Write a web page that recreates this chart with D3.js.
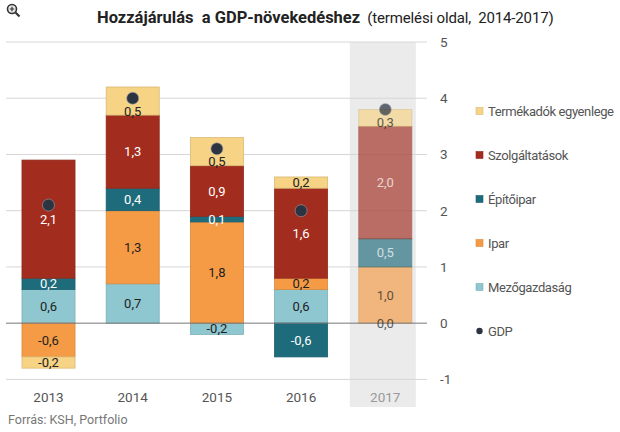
<!DOCTYPE html>
<html><head><meta charset="utf-8">
<script src="https://cdn.jsdelivr.net/npm/d3@7"></script>
<style>body{margin:0;background:#fff} svg{display:block;font-family:Roboto, "Noto Sans", sans-serif}</style>
</head><body><svg id="c" width="620" height="432"></svg>
<script>
const years = ["2013", "2014", "2015", "2016", "2017"];
const highlightYear = "2017";
const mezogazdasag = [0.6, 0.7, -0.2, 0.6, 0.0];
const ipar = [-0.6, 1.3, 1.8, 0.2, 1.0];
const epitoipar = [0.2, 0.4, 0.1, -0.6, 0.5];
const szolgaltatasok = [2.1, 1.3, 0.9, 1.6, 2.0];
const termekadok = [-0.2, 0.5, 0.5, 0.2, 0.3];
const gdp = [2.1, 4.0, 3.1, 2.0, 3.8];
const yTicks = [-1, 0, 1, 2, 3, 4, 5];
const seriesKeys = ["Mezőgazdaság", "Ipar", "Építőipar", "Szolgáltatások", "Termékadók egyenlege"];
const seriesValues = [mezogazdasag, ipar, epitoipar, szolgaltatasok, termekadok];
const legendOrder = ["Termékadók egyenlege", "Szolgáltatások", "Építőipar", "Ipar", "Mezőgazdaság", "GDP"];
const colors = {
  "Mezőgazdaság": "#8fc7d1",
  "Ipar": "#f59b45",
  "Építőipar": "#1d6b7b",
  "Szolgáltatások": "#a22d1f",
  "Termékadók egyenlege": "#f6d385",
  "GDP": "#2c3442"
};
const whiteLabel = {"Építőipar": true, "Szolgáltatások": true};

const table = years.map((y, i) => {
  const row = {year: y};
  seriesKeys.forEach((k, j) => row[k] = seriesValues[j][i]);
  row.GDP = gdp[i];
  return row;
});

const svg = d3.select("#c");
const x = d3.scaleBand().domain(years).range([6.4, 427.4]).paddingInner(0.37).paddingOuter(0.185);
const y = d3.scaleLinear().domain([-1, 5]).range([379.4, 42]);
const fmt = v => v.toFixed(1).replace(".", ",");

// highlight band
svg.append("rect")
  .attr("x", x(highlightYear) - 9).attr("width", x.bandwidth() + 13)
  .attr("y", y(5)).attr("height", 407 - y(5))
  .attr("fill", "#ebebeb");

// grid
svg.append("g").selectAll("line").data(yTicks.filter(t => t !== 0)).join("line")
  .attr("x1", 6).attr("x2", 427).attr("y1", d => y(d)).attr("y2", d => y(d))
  .attr("stroke", "#d6d6d6").attr("stroke-width", 1);

// right axis
const axis = d3.axisRight(y).tickValues(yTicks).tickSize(0).tickPadding(0).tickFormat(d => d);
const ag = svg.append("g").attr("transform", "translate(440,0)").call(axis);
ag.select(".domain").remove();
ag.selectAll("text").attr("fill", "#555").attr("font-size", 13.5).attr("font-family", "Roboto");

// stack
const stack = d3.stack().keys(seriesKeys).offset(d3.stackOffsetDiverging);
const stacked = stack(table);

const bars = svg.append("g");
stacked.forEach(s => {
  bars.append("g").selectAll("rect").data(s).join("rect")
    .attr("x", d => x(d.data.year))
    .attr("width", x.bandwidth())
    .attr("y", d => y(Math.max(d[0], d[1])))
    .attr("height", d => Math.abs(y(d[0]) - y(d[1])))
    .attr("fill", colors[s.key])
    .attr("stroke", d3.color(colors[s.key]).darker(0.35))
    .attr("stroke-width", 0.8)
    .attr("opacity", d => d.data.year === highlightYear ? 0.66 : 1);
});

// zero line
svg.append("line").attr("x1", 6).attr("x2", 427).attr("y1", y(0)).attr("y2", y(0))
  .attr("stroke", "#777").attr("stroke-width", 1);

// labels
const labels = svg.append("g").attr("font-size", 13).attr("text-anchor", "middle");
stacked.forEach(s => {
  labels.selectAll(null).data(s).join("text")
    .attr("x", d => x(d.data.year) + x.bandwidth() / 2)
    .attr("y", d => {
      const c = (y(d[0]) + y(d[1])) / 2;
      const dy = y(d.data.GDP);
      return Math.abs(c - dy) < 12 ? dy + 13 : c;
    })
    .attr("dy", "0.35em")
    .attr("fill", d => whiteLabel[s.key] ? "#fff" : "#222")
    .attr("opacity", d => d.data.year === highlightYear ? 0.7 : 1)
    .text(d => fmt(d.data[s.key]));
});

// GDP dots
svg.append("g").selectAll("circle").data(table).join("circle")
  .attr("cx", d => x(d.year) + x.bandwidth() / 2)
  .attr("cy", d => y(d.GDP))
  .attr("r", 6)
  .attr("fill", colors.GDP)
  .attr("stroke", "#9aa0a8").attr("stroke-width", 0.6)
  .attr("opacity", d => d.year === highlightYear ? 0.72 : 1);

// x labels
svg.append("g").selectAll("text").data(years).join("text")
  .attr("x", d => x(d) + x.bandwidth() / 2)
  .attr("y", 397).attr("dy", "0.35em")
  .attr("text-anchor", "middle").attr("font-size", 13.5)
  .attr("fill", d => d === highlightYear ? "#999" : "#555")
  .text(d => d);

// legend
const lg = svg.append("g").attr("font-size", 13).attr("fill", "#555").attr("letter-spacing", -0.4);
legendOrder.forEach((k, i) => {
  const cy = 111 + i * 44;
  if (k === "GDP") {
    lg.append("circle").attr("cx", 479.5).attr("cy", cy).attr("r", 3.2).attr("fill", colors.GDP);
  } else {
    lg.append("rect").attr("x", 476).attr("y", cy - 3.5).attr("width", 7).attr("height", 7)
      .attr("fill", colors[k]).attr("stroke", d3.color(colors[k]).darker(0.35)).attr("stroke-width", 0.6);
  }
  lg.append("text").attr("x", 488).attr("y", cy).attr("dy", "0.35em").text(k);
});

// title
const title = svg.append("text").attr("x", 97).attr("y", 23).attr("fill", "#222")
  .attr("xml:space", "preserve");
title.append("tspan").attr("font-weight", "bold").attr("font-size", 16.5).text("Hozzájárulás  a GDP-növekedéshez");
title.append("tspan").attr("font-size", 15).attr("letter-spacing", -0.15).text("  (termelési oldal,  2014-2017)");

// source
svg.append("text").attr("x", 8).attr("y", 424).attr("font-size", 12.5).attr("fill", "#777")
  .text("Forrás: KSH, Portfolio");

// magnifier icon
const ic = svg.append("g").attr("stroke", "#333").attr("fill", "none");
ic.append("circle").attr("cx", 12).attr("cy", 9).attr("r", 4.5).attr("stroke-width", 1.6).attr("fill", "#e8e8e8");
ic.append("line").attr("x1", 15.5).attr("y1", 12.5).attr("x2", 19.5).attr("y2", 16.5).attr("stroke-width", 2.2);
ic.append("path").attr("d", "M9.8,9H14.2M12,6.8V11.2").attr("stroke-width", 1.2);
</script></body></html>
